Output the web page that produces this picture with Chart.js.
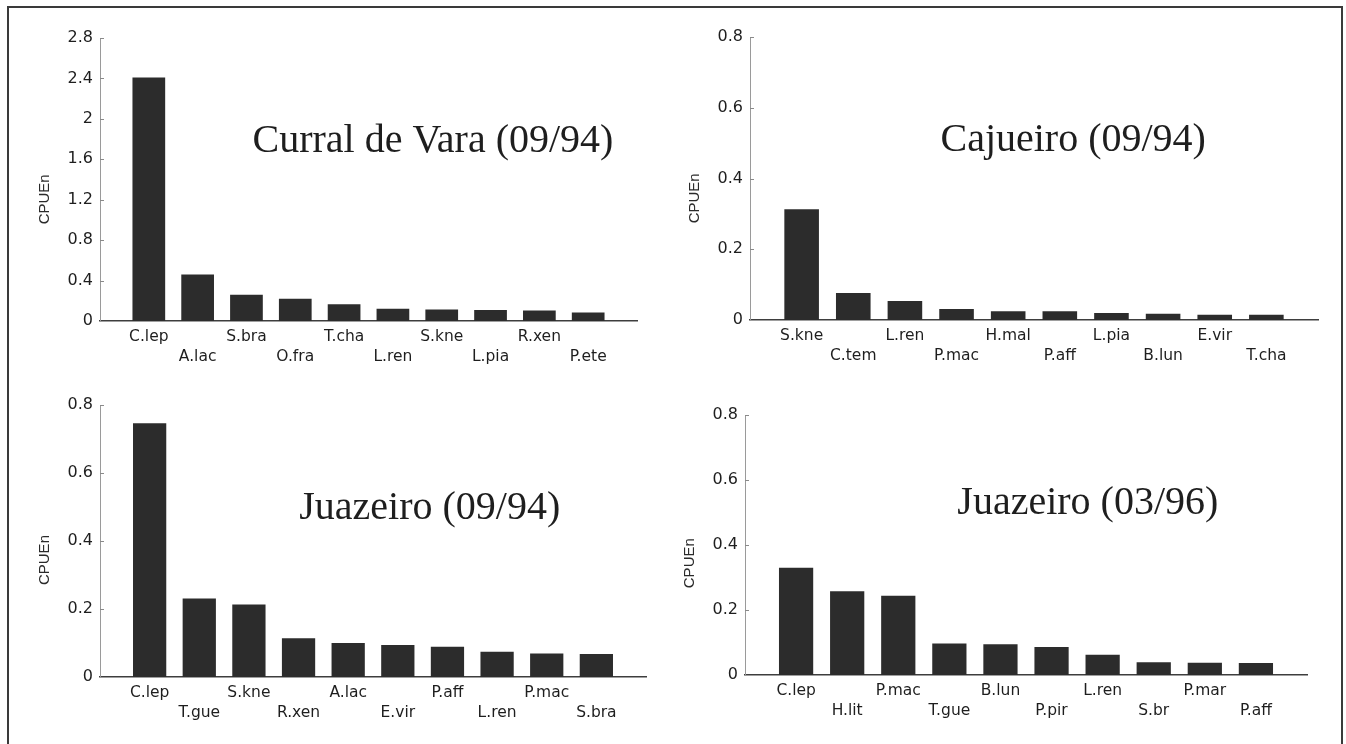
<!DOCTYPE html>
<html>
<head>
<meta charset="utf-8">
<script src="https://cdn.jsdelivr.net/npm/chart.js@4.4.1/dist/chart.umd.min.js"></script>
<style>
  html, body { margin: 0; padding: 0; background: #fff; width: 1346px; height: 744px; overflow: hidden; }
  #frame { position: absolute; left: 7px; top: 6px; width: 1332px; height: 760px;
           border: 2px solid #3a3a3a; border-bottom: none; }
  canvas { position: absolute; }
</style>
</head>
<body>
<div id="frame"></div>
<canvas id="p1"></canvas>
<canvas id="p2"></canvas>
<canvas id="p3"></canvas>
<canvas id="p4"></canvas>
<script>
// Normalized catch per unit effort (CPUEn) by species, four sampling sites/dates
const curralSpecies = ['C.lep', 'A.lac', 'S.bra', 'O.fra', 'T.cha', 'L.ren', 'S.kne', 'L.pia', 'R.xen', 'P.ete'];
const curralCpue    = [2.41, 0.46, 0.26, 0.22, 0.165, 0.12, 0.115, 0.11, 0.105, 0.085];

const cajueiroSpecies = ['S.kne', 'C.tem', 'L.ren', 'P.mac', 'H.mal', 'P.aff', 'L.pia', 'B.lun', 'E.vir', 'T.cha'];
const cajueiroCpue    = [0.313, 0.076, 0.054, 0.031, 0.025, 0.025, 0.020, 0.018, 0.015, 0.015];

const juazeiro94Species = ['C.lep', 'T.gue', 'S.kne', 'R.xen', 'A.lac', 'E.vir', 'P.aff', 'L.ren', 'P.mac', 'S.bra'];
const juazeiro94Cpue    = [0.746, 0.231, 0.213, 0.114, 0.100, 0.094, 0.089, 0.074, 0.069, 0.068];

const juazeiro96Species = ['C.lep', 'H.lit', 'P.mac', 'T.gue', 'B.lun', 'P.pir', 'L.ren', 'S.br', 'P.mar', 'P.aff'];
const juazeiro96Cpue    = [0.330, 0.258, 0.244, 0.097, 0.095, 0.086, 0.062, 0.039, 0.038, 0.037];

// y-axis tick values
const yTicksLarge = [0, 0.4, 0.8, 1.2, 1.6, 2, 2.4, 2.8];
const yTicksSmall = [0, 0.2, 0.4, 0.6, 0.8];

const yAxisLabel = 'CPUEn';

// Panel layout: canvas box and plot area in page pixels, title anchor as fraction of plot area
const panels = [
  { id: 'p1', title: 'Curral de Vara (09/94)', species: curralSpecies, values: curralCpue, yTicks: yTicksLarge,
    box: { x: 10, y: 10, w: 660, h: 360 }, area: { l: 100, t: 38, r: 637, b: 321 }, titleAt: [0.62, 0.364] },
  { id: 'p2', title: 'Cajueiro (09/94)', species: cajueiroSpecies, values: cajueiroCpue, yTicks: yTicksSmall,
    box: { x: 675, y: 10, w: 660, h: 360 }, area: { l: 750, t: 37, r: 1318, b: 320 }, titleAt: [0.569, 0.367] },
  { id: 'p3', title: 'Juazeiro (09/94)', species: juazeiro94Species, values: juazeiro94Cpue, yTicks: yTicksSmall,
    box: { x: 10, y: 375, w: 660, h: 360 }, area: { l: 100, t: 405, r: 646, b: 677 }, titleAt: [0.604, 0.382] },
  { id: 'p4', title: 'Juazeiro (03/96)', species: juazeiro96Species, values: juazeiro96Cpue, yTicks: yTicksSmall,
    box: { x: 675, y: 375, w: 660, h: 360 }, area: { l: 745, t: 415, r: 1307, b: 675 }, titleAt: [0.61, 0.342] }
];

// Draws the site title, the rotated y caption and short inward tick marks
const panelText = {
  id: 'panelText',
  afterDraw(chart, args, opts) {
    const { ctx, chartArea: a } = chart;
    const w = a.right - a.left, h = a.bottom - a.top;
    ctx.save();
    ctx.fillStyle = '#1e1e1e';
    ctx.font = '40px "Liberation Serif"';
    ctx.textAlign = 'center';
    ctx.textBaseline = 'middle';
    ctx.fillText(opts.title, a.left + opts.at[0] * w, a.top + opts.at[1] * h);

    ctx.translate(a.left - 55, a.top + 0.57 * h);
    ctx.rotate(-Math.PI / 2);
    ctx.font = '15px "Liberation Sans"';
    ctx.fillStyle = '#2a2a2a';
    ctx.fillText(yAxisLabel, 0, 0);
    ctx.restore();

    const ys = chart.scales.y;
    ctx.save();
    ctx.strokeStyle = '#8a8a8a';
    ctx.lineWidth = 1;
    ys.ticks.forEach(t => {
      if (t.value === 0) return;
      const py = Math.round(ys.getPixelForValue(t.value)) + 0.5;
      ctx.beginPath();
      ctx.moveTo(a.left, py);
      ctx.lineTo(a.left + 4, py);
      ctx.stroke();
    });
    ctx.restore();
  }
};

function makeChart(p) {
  const c = document.getElementById(p.id);
  c.width = p.box.w;
  c.height = p.box.h;
  c.style.left = p.box.x + 'px';
  c.style.top = p.box.y + 'px';
  const yWidth = p.area.l - p.box.x;
  const xHeight = p.box.y + p.box.h - p.area.b;
  const yMax = p.yTicks[p.yTicks.length - 1];

  new Chart(c, {
    type: 'bar',
    data: {
      datasets: [{
        data: p.values.map((v, i) => ({ x: i, y: v })),
        backgroundColor: '#2c2c2c',
        borderWidth: 0,
        barPercentage: 0.67,
        categoryPercentage: 1
      }]
    },
    options: {
      responsive: false,
      animation: false,
      devicePixelRatio: 1,
      layout: { padding: { top: p.area.t - p.box.y, right: p.box.x + p.box.w - p.area.r, left: 0, bottom: 0 } },
      plugins: {
        legend: { display: false },
        tooltip: { enabled: false },
        panelText: { title: p.title, at: p.titleAt }
      },
      scales: {
        x: {
          type: 'linear',
          min: -1,
          max: p.species.length,
          offset: false,
          grid: { display: false, drawTicks: false },
          border: { display: true, color: '#3e3e3e', width: 1.5 },
          afterBuildTicks: s => { s.ticks = p.species.map((_, i) => ({ value: i })); },
          afterFit: s => { s.height = xHeight; },
          ticks: {
            autoSkip: false,
            maxRotation: 0,
            minRotation: 0,
            padding: 6,
            color: '#1e1e1e',
            font: { family: '"DejaVu Sans"', size: 15.5, lineHeight: 20 / 15.5 },
            callback: (v) => {
              const name = p.species[v];
              if (name === undefined) return '';
              return v % 2 ? ['', name] : [name, ''];
            }
          }
        },
        y: {
          min: 0,
          max: yMax,
          grid: { display: false, drawTicks: false },
          border: { display: true, color: '#9a9a9a', width: 1, dash: [2, 3] },
          afterBuildTicks: s => { s.ticks = p.yTicks.map(v => ({ value: v })); },
          afterFit: s => { s.width = yWidth; },
          ticks: {
            padding: 7,
            color: '#1e1e1e',
            font: { family: '"DejaVu Sans"', size: 16 },
            callback: v => String(parseFloat(Number(v).toFixed(2)))
          }
        }
      }
    },
    plugins: [panelText]
  });
}

panels.forEach(makeChart);
</script>
</body>
</html>
